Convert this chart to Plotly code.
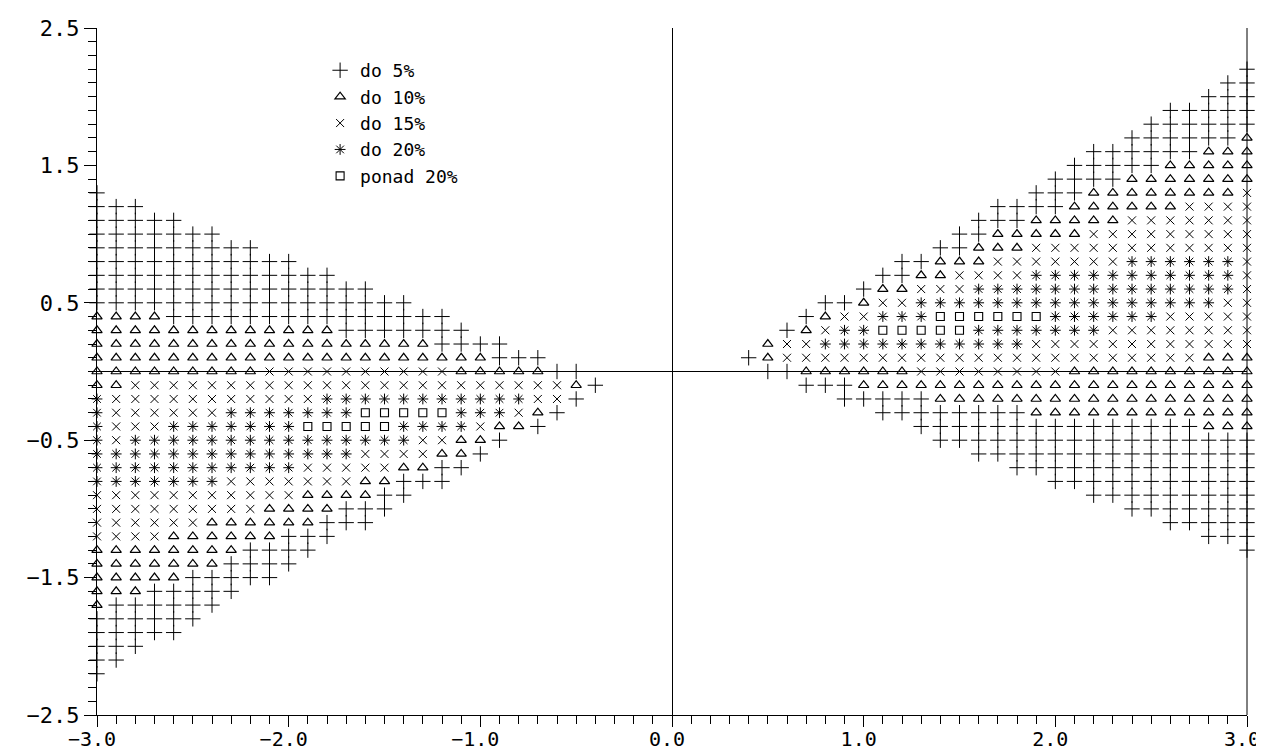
import plotly.graph_objects as go

# kategorie (legenda) i ich kody w siatkach
labels = ["do 5%", "do 10%", "do 15%", "do 20%", "ponad 20%"]
codes = ["+", "^", "x", "*", "o"]

# lewy trojkat: kolumny x = -3.0 ... -0.4, wiersze zaczynaja sie od x = -3.0
left_y = [1.3, 1.2, 1.1, 1.0, 0.9, 0.8, 0.7, 0.6, 0.5, 0.4, 0.3, 0.2, 0.1, 0.0,
          -0.1, -0.2, -0.3, -0.4, -0.5, -0.6, -0.7, -0.8, -0.9, -1.0, -1.1, -1.2,
          -1.3, -1.4, -1.5, -1.6, -1.7, -1.8, -1.9, -2.0, -2.1, -2.2]
left_rows = [
    "1+", "3+", "5+", "7+", "9+", "11+", "13+", "15+", "17+",
    "4^ 15+",
    "13^ 7+",
    "18^ 4+",
    "21^ 3+",
    "9^ 10x 5^ 2+",
    "2^ 23x 1^ 1+",
    "1* 11x 11* 2x 1+",
    "1* 6x 7* 5o 3* 1x 1^ 1+",
    "1* 3x 7* 5o 4* 1x 2^ 1+",
    "1* 1x 15* 2x 2^ 1+",
    "14* 4x 2^ 1+",
    "11* 5x 2^ 2+",
    "7* 7x 2^ 3+",
    "11x 4^ 2+",
    "9x 4^ 3+",
    "6x 6^ 3+",
    "4x 6^ 3+",
    "8^ 4+",
    "7^ 4+",
    "5^ 5+",
    "3^ 5+",
    "1^ 6+",
    "6+", "5+", "3+", "2+", "1+",
]

# prawy trojkat: kolumny x = 0.4 ... 3.0, wiersze koncza sie na x = 3.0
right_y = [2.2, 2.1, 2.0, 1.9, 1.8, 1.7, 1.6, 1.5, 1.4, 1.3, 1.2, 1.1, 1.0, 0.9,
           0.8, 0.7, 0.6, 0.5, 0.4, 0.3, 0.2, 0.1, 0.0, -0.1, -0.2, -0.3, -0.4,
           -0.5, -0.6, -0.7, -0.8, -0.9, -1.0, -1.1, -1.2, -1.3]
right_rows = [
    "1+", "2+", "3+", "5+", "6+",
    "6+ 1^",
    "6+ 3^",
    "5+ 5^",
    "4+ 7^",
    "3+ 8^ 1x",
    "4+ 6^ 4x",
    "3+ 5^ 7x",
    "2+ 5^ 9x",
    "2+ 3^ 12x",
    "2+ 3^ 7x 6* 1x",
    "2+ 2^ 4x 11* 1x",
    "1+ 2^ 3x 14* 1x",
    "2+ 1^ 2x 16* 2x",
    "1+ 1^ 2x 3* 6o 6* 5x",
    "1+ 1^ 1x 2* 5o 7* 8x",
    "1^ 2x 11* 12x",
    "1+ 1^ 22x 3^",
    "2+ 6^ 8x 10^",
    "3+ 21^",
    "5+ 17^",
    "8+ 12^",
    "15+ 3^",
    "17+", "15+", "13+", "11+", "9+", "7+", "5+", "3+", "1+",
]

left_x = [round(-3.0 + 0.1 * i, 1) for i in range(27)]
right_x = [round(0.4 + 0.1 * i, 1) for i in range(27)]


def expand(runs):
    out = []
    for tok in runs.split():
        out += [tok[-1]] * int(tok[:-1])
    return out


pts = {c: ([], []) for c in codes}
for y, r in zip(left_y, left_rows):
    for x, c in zip(left_x, expand(r)):
        pts[c][0].append(x)
        pts[c][1].append(y)
for y, r in zip(right_y, right_rows):
    row = expand(r)
    for x, c in zip(right_x[len(right_x) - len(row):], row):
        pts[c][0].append(x)
        pts[c][1].append(y)

styles = {
    "+": dict(symbol="cross-thin", size=11, w=1.0),
    "^": dict(symbol="triangle-up-open", size=9, w=1.2),
    "x": dict(symbol="x-thin", size=8, w=1.0),
    "*": dict(symbol="asterisk", size=9, w=1.0),
    "o": dict(symbol="square-open", size=8, w=1.1),
}

fig = go.Figure()
for c, name in zip(codes, labels):
    st = styles[c]
    fig.add_trace(go.Scatter(
        x=pts[c][0], y=pts[c][1], mode="markers", name=name, cliponaxis=False,
        marker=dict(symbol=st["symbol"], size=st["size"], color="black",
                    line=dict(color="black", width=st["w"])),
    ))

axis = dict(ticks="outside", tickwidth=1, tickcolor="black",
            showline=True, linecolor="black", linewidth=1,
            zeroline=True, zerolinecolor="black", zerolinewidth=1,
            showgrid=False, automargin=False, tickformat=".1f",
            minor=dict(dtick=0.1, ticks="outside", ticklen=8,
                       tickcolor="black", tickwidth=1, showgrid=False))
fig.update_xaxes(range=[-3, 3], tick0=-3, dtick=1, ticklen=11,
                 tickfont=dict(family="DejaVu Sans Mono", size=20, color="black"),
                 ticklabelstandoff=-5, ticklabelshift=-5,
                 ticklabeloverflow="allow", **axis)
fig.update_yaxes(range=[-2.5, 2.5], tick0=0.5, dtick=1, ticklen=12,
                 tickfont=dict(family="DejaVu Sans Mono", size=22, color="black"),
                 **axis)

fig.add_shape(type="line", xref="paper", yref="paper", x0=1, x1=1, y0=0, y1=1,
              line=dict(color="black", width=1))

# strona ma 8 px marginesu body, stad mniejsza figura i marginesy
fig.update_layout(
    width=1256, height=747,
    margin=dict(l=89, r=17, t=20, b=40),
    paper_bgcolor="white", plot_bgcolor="white",
    showlegend=True,
    legend=dict(x=0.194, y=0.965, xanchor="left", yanchor="top",
                bgcolor="rgba(0,0,0,0)",
                font=dict(family="DejaVu Sans Mono", size=18, color="black"),
                tracegroupgap=0, itemwidth=30),
)

fig.write_html("out.html")
